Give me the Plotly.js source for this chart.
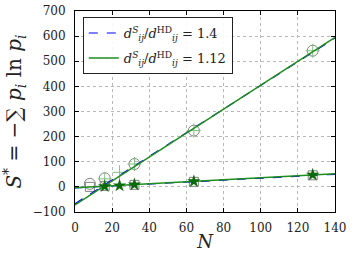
<!DOCTYPE html>
<html>
<head>
<meta charset="utf-8">
<script src="https://cdn.plot.ly/plotly-3.0.1.min.js"></script>
<style>
html,body{margin:0;padding:0;background:#fff;}
#chart{width:353px;height:254px;}
</style>
</head>
<body>
<div id="chart"></div>
<script>
// Data
const nCircle = [8, 16, 32, 64, 128];
const sCircle = [12, 34, 91, 224, 542];
const nPlus = [16, 24, 32, 64, 128];
const sPlus = [32, 58, 91, 224, 542];
const nSquare = [8, 16, 32, 64, 128];
const sSquare = [0, 4, 8, 20, 46];
const nStar = [16, 24, 32, 64, 128];
const sStar = [2, 5, 9, 22, 48];
const fitN = [0, 140];
const fit14Steep = [-67, 592];
const fit14Flat = [-4, 50];
const fit112Steep = [-72, 595];
const fit112Flat = [-3, 52];
const xTicks = [0, 20, 40, 60, 80, 100, 120, 140];
const yTicks = [-100, 0, 100, 200, 300, 400, 500, 600, 700];
const label14 = '<i>d</i><sup><i>S</i></sup><sub><i>ij</i></sub>/<i>d</i><sup>HD</sup><sub><i>ij</i></sub> = 1.4';
const label112 = '<i>d</i><sup><i>S</i></sup><sub><i>ij</i></sub>/<i>d</i><sup>HD</sup><sub><i>ij</i></sub> = 1.12';

const blue = '#0000ff';
const green = '#1e8c1e';
const grey = '#808080';
const serif = 'DejaVu Serif';

const traces = [
  {x: nCircle, y: sCircle, mode: 'markers', showlegend: false,
   marker: {symbol: 'circle-open', size: 11, color: grey, line: {width: 1}}},
  {x: nSquare, y: sSquare, mode: 'markers', showlegend: false,
   marker: {symbol: 'square-open', size: 9, color: grey, line: {width: 1}}},
  {x: nPlus, y: sPlus, mode: 'markers', showlegend: false,
   marker: {symbol: 'cross-thin-open', size: 10, color: '#7fc07f', line: {width: 1}}},
  {x: fitN, y: fit14Steep, mode: 'lines', name: label14, legendgroup: 'a',
   line: {color: blue, width: 1.2, dash: 'dash'}},
  {x: fitN, y: fit14Flat, mode: 'lines', showlegend: false, legendgroup: 'a',
   line: {color: blue, width: 1.2, dash: 'dash'}},
  {x: fitN, y: fit112Steep, mode: 'lines', name: label112, legendgroup: 'b',
   line: {color: green, width: 1.5}},
  {x: fitN, y: fit112Flat, mode: 'lines', showlegend: false, legendgroup: 'b',
   line: {color: green, width: 1.5}},
  {x: nStar, y: sStar, mode: 'markers', showlegend: false,
   marker: {symbol: 'star', size: 10, color: '#0a6a0a', line: {width: 0}}}
];

const axisCommon = {
  showline: true, linecolor: '#000', linewidth: 1, mirror: 'ticks',
  ticks: 'inside', ticklen: 4, tickcolor: '#000',
  showgrid: true, gridcolor: '#b8b8b8', gridwidth: 1, griddash: 'dot',
  zeroline: false,
  tickfont: {family: serif, size: 12, color: '#222'}
};

const layout = {
  width: 353, height: 254,
  margin: {l: 75, r: 18, t: 11, b: 42, pad: 0},
  paper_bgcolor: '#fff', plot_bgcolor: '#fff',
  font: {family: serif, size: 12, color: '#222'},
  xaxis: Object.assign({}, axisCommon, {
    range: [0, 140], tickvals: xTicks, ticklabelstandoff: 5,
    title: {text: '<i>N</i>', font: {family: serif, size: 18, color: '#222'}, standoff: 0}
  }),
  yaxis: Object.assign({}, axisCommon, {
    range: [-100, 700], tickvals: yTicks, ticklabelstandoff: 6,
    title: {text: '<i>S</i><sup>*</sup> = −∑ <i>p<sub>i</sub></i> ln <i>p<sub>i</sub></i>',
            font: {family: serif, size: 20, color: '#222'}, standoff: 8}
  }),
  legend: {
    x: 0.03, y: 0.97, xanchor: 'left', yanchor: 'top',
    bgcolor: 'rgba(255,255,255,0.9)', bordercolor: '#222', borderwidth: 1,
    font: {family: serif, size: 13, color: '#222'},
    tracegroupgap: 5, itemwidth: 30
  }
};

Plotly.newPlot('chart', traces, layout, {displayModeBar: false, staticPlot: true});
</script>
</body>
</html>
